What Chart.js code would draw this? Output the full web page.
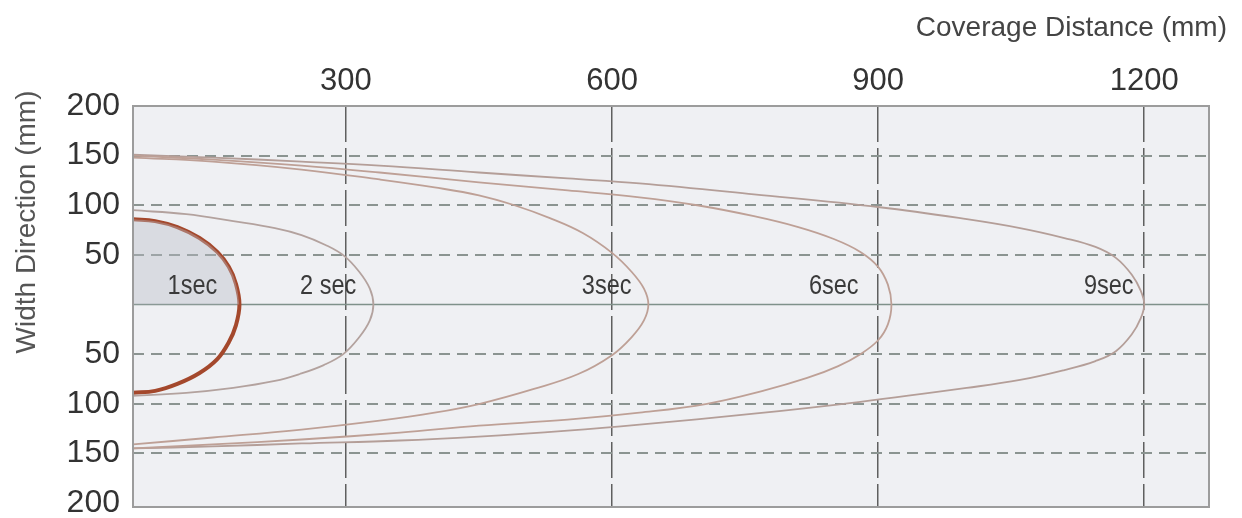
<!DOCTYPE html>
<html>
<head>
<meta charset="utf-8">
<script src="https://cdn.jsdelivr.net/npm/chart.js@4.4.0/dist/chart.umd.min.js"></script>
<style>
  html, body { margin: 0; padding: 0; background: #fff; }
  #wrap { width: 1242px; height: 518px; }
</style>
</head>
<body>
<div id="wrap"><canvas id="chart"></canvas></div>
<script>
// coverage outlines, x = coverage distance (mm), y = width direction (mm)
const sec1X = [60, 85, 110, 135, 155, 168, 176, 180, 176, 168, 155, 135, 110, 85, 60];
const sec1Y = [86, 84, 78, 67, 53, 38, 21, 0, -21, -38, -55, -69, -80, -87, -89];

const sec2X = [60, 120, 173, 220, 250, 277, 298, 315, 327, 331, 327, 315, 297, 275, 248, 220, 173, 120, 60];
const sec2Y = [95, 91, 84, 77, 70, 60, 49, 33, 16, 0, -16, -33, -50, -61, -70, -77, -84, -89, -92];

const sec3X = [60, 150, 250, 338, 400, 450, 490, 530, 567, 600, 622, 636, 641, 636, 622, 600, 562, 512, 451, 400, 338, 250, 150, 60];
const sec3Y = [148, 144, 136, 126, 118, 110, 100, 87, 72, 52, 33, 16, 0, -16, -33, -51, -70, -85, -100, -109, -117, -126, -134, -141];

const sec6X = [60, 150, 250, 338, 450, 550, 631, 696, 760, 810, 850, 880, 900, 911, 915, 911, 900, 880, 855, 820, 770, 707, 631, 550, 450, 361, 250, 150, 60];
const sec6Y = [150, 146, 140, 133, 123, 115, 108, 100, 89, 78, 66, 53, 38, 20, 0, -20, -36, -50, -62, -74, -87, -100, -109, -116, -122, -129, -136, -141, -145];

const sec9X = [60, 150, 250, 338, 450, 550, 631, 760, 902, 1000, 1060, 1110, 1145, 1168, 1186, 1196, 1200, 1196, 1186, 1168, 1145, 1110, 1060, 1000, 880, 760, 631, 550, 450, 361, 250, 150, 60];
const sec9Y = [151, 148, 144, 140, 133, 127, 122, 111, 98, 86, 77, 67, 58, 47, 30, 14, 0, -14, -30, -47, -57, -66, -76, -84, -98, -110, -121, -127, -133, -137, -140, -143, -145];

const xTicks = [300, 600, 900, 1200];
const yTicks = [-200, -150, -100, -50, 0, 50, 100, 150, 200];
const curveNames = ['1sec', '2 sec', '3sec', '6sec', '9sec'];
const curveLabelX = [127, 280, 594, 850, 1160];
const curveLabelY = [18, 18, 18, 18, 18];

function pts(xs, ys) {
    return xs.map((x, i) => ({ x: x, y: ys[i] }));
}

function outline(data, color, width) {
    return {
        data: data, showLine: true, fill: false,
        borderColor: color, borderWidth: width,
        pointRadius: 0, tension: 0.4
    };
}

const FONT = '"Liberation Sans", Arial, sans-serif';

const decor = {
    id: 'decor',
    beforeDraw(chart) {
        const { ctx, chartArea: a } = chart;
        ctx.save();
        ctx.fillStyle = '#eff0f3';
        ctx.fillRect(a.left, a.top, a.right - a.left, a.bottom - a.top);
        ctx.restore();
    },
    beforeDatasetsDraw(chart) {
        const { ctx, chartArea: a, scales } = chart;
        const y0 = scales.y.getPixelForValue(0);
        ctx.save();
        ctx.strokeStyle = '#7f918a';
        ctx.lineWidth = 1.5;
        ctx.beginPath();
        ctx.moveTo(a.left, y0);
        ctx.lineTo(a.right, y0);
        ctx.stroke();
        ctx.restore();
    },
    afterDraw(chart) {
        const { ctx, chartArea: a, scales } = chart;
        ctx.save();
        ctx.strokeStyle = '#9c9c9c';
        ctx.lineWidth = 2;
        ctx.strokeRect(a.left, a.top, a.right - a.left, a.bottom - a.top);

        ctx.fillStyle = '#3a3a3a';
        ctx.textAlign = 'center';
        ctx.textBaseline = 'middle';
        ctx.font = '28px ' + FONT;
        curveNames.forEach((n, i) => {
            const px = scales.x.getPixelForValue(curveLabelX[i]);
            const py = scales.y.getPixelForValue(curveLabelY[i]);
            ctx.save();
            ctx.translate(px, py);
            ctx.scale(0.84, 1);
            ctx.fillText(n, 0, 0);
            ctx.restore();
        });

        ctx.fillStyle = '#444';
        ctx.font = '28px ' + FONT;
        ctx.textAlign = 'right';
        ctx.textBaseline = 'alphabetic';
        ctx.fillText('Coverage Distance (mm)', 1227, 36);

        ctx.translate(35, 222);
        ctx.rotate(-Math.PI / 2);
        ctx.textAlign = 'center';
        ctx.fillStyle = '#555';
        ctx.font = '28px ' + FONT;
        ctx.fillText('Width Direction (mm)', 0, 0);
        ctx.restore();
    }
};

new Chart(document.getElementById('chart'), {
    type: 'scatter',
    data: {
        datasets: [
            {
                data: pts(sec1X.slice(0, 8), sec1Y.slice(0, 8)), showLine: true,
                fill: 'origin', backgroundColor: 'rgba(185,188,198,0.4)',
                borderWidth: 0, pointRadius: 0, tension: 0.4
            },
            outline(pts(sec2X, sec2Y), '#b3a29e', 1.8),
            outline(pts(sec3X, sec3Y), '#bea096', 1.8),
            outline(pts(sec6X, sec6Y), '#bea096', 1.8),
            outline(pts(sec9X, sec9Y), '#b49e98', 1.8),
            outline(pts(sec1X, sec1Y), '#a4482c', 4)
        ]
    },
    options: {
        responsive: true,
        maintainAspectRatio: false,
        devicePixelRatio: 1,
        animation: false,
        layout: { padding: { left: 0, right: 33, top: 0, bottom: 11 } },
        plugins: { legend: { display: false }, tooltip: { enabled: false } },
        scales: {
            x: {
                type: 'linear', position: 'top', min: 60, max: 1273,
                afterBuildTicks: s => { s.ticks = xTicks.map(v => ({ value: v })); },
                afterFit: s => { s.height = 106; s.paddingLeft = 0; s.paddingRight = 0; },
                ticks: { color: '#333', padding: 6, font: { size: 31, family: FONT }, callback: v => String(v) },
                grid: { color: '#5f5f5f', lineWidth: 1.5, drawTicks: false },
                border: { display: false, dash: [36, 6] }
            },
            y: {
                type: 'linear', min: -204, max: 200,
                afterBuildTicks: s => { s.ticks = yTicks.map(v => ({ value: v })); },
                afterFit: s => { s.width = 133; s.paddingTop = 0; s.paddingBottom = 0; },
                ticks: {
                    color: '#333', padding: 13,
                    font: { size: 32, family: FONT },
                    callback: v => v === 0 ? '' : String(Math.abs(v))
                },
                grid: {
                    drawTicks: false, lineWidth: 2,
                    color: c => (c.tick && Math.abs(c.tick.value) > 0 && Math.abs(c.tick.value) < 200) ? '#8b9491' : 'rgba(0,0,0,0)'
                },
                border: { display: false, dash: [11, 7] }
            }
        }
    },
    plugins: [decor]
});
</script>
</body>
</html>
